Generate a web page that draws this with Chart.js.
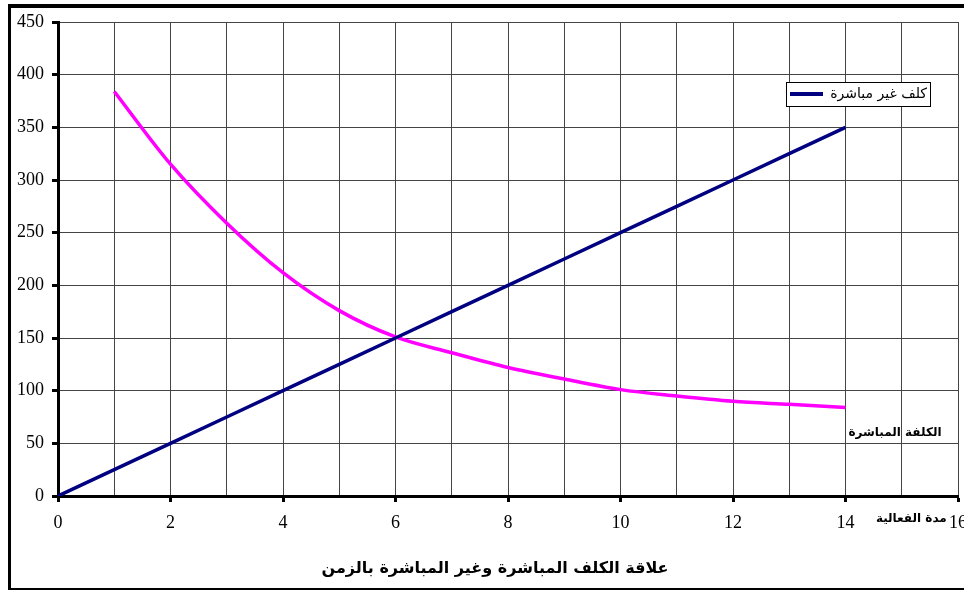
<!DOCTYPE html>
<html>
<head>
<meta charset="utf-8">
<script src="https://cdn.jsdelivr.net/npm/chart.js@4.4.1/dist/chart.umd.min.js"></script>
<style>
  html, body { margin: 0; padding: 0; background: #fff; overflow: hidden; width: 964px; height: 592px; }
  #frame { position: absolute; left: 8px; top: 4px; width: 1000px; height: 580px;
           border-top: 4px solid #000; border-left: 3px solid #000; border-bottom: 2px solid #000; }
  #wrap { position: absolute; left: 0; top: 0; }
</style>
</head>
<body>
<div id="frame"></div>
<div id="wrap"><canvas id="chart" width="1000" height="592"></canvas></div>
<script>
// بيانات المخطط
var indirectDays = [0, 1, 2, 3, 4, 5, 6, 7, 8, 9, 10, 11, 12, 13, 14];
var indirectCost = [0, 25, 50, 75, 100, 125, 150, 175, 200, 225, 250, 275, 300, 325, 350];
var directDays = [1, 2, 3, 4, 5, 6, 7, 8, 9, 10, 11, 12, 13, 14];
var directCost = [384, 315, 259, 212, 176, 151, 136, 122, 111, 101, 95, 90, 87, 84];
var yTicks = [0, 50, 100, 150, 200, 250, 300, 350, 400, 450];
var xTicks = [0, 2, 4, 6, 8, 10, 12, 14, 16];

var indirectLabel = 'كلف غير مباشرة';
var directLabel = 'الكلفة المباشرة';
var xAxisLabel = 'مدة الفعالية';
var chartTitle = 'علاقة الكلف المباشرة وغير المباشرة بالزمن';

function toPoints(xs, ys) {
  return xs.map(function (x, i) { return { x: x, y: ys[i] }; });
}

// legend + labels drawn on the canvas
var extraText = {
  id: 'extraText',
  afterDatasetsDraw: function (chart) {
    var ctx = chart.ctx;
    var area = chart.chartArea;
    var xs = chart.scales.x, ys = chart.scales.y;
    ctx.save();

    // legend box (blue series only)
    var ds = chart.data.datasets[0];
    var bx = area.right - 172, by = area.top + 60, bw = 144, bh = 24;
    ctx.fillStyle = '#fff';
    ctx.fillRect(bx, by, bw, bh);
    ctx.strokeStyle = '#000';
    ctx.lineWidth = 1;
    ctx.strokeRect(bx + 0.5, by + 0.5, bw, bh);
    ctx.strokeStyle = ds.borderColor;
    ctx.lineWidth = 4;
    ctx.beginPath();
    ctx.moveTo(bx + 4, by + 12);
    ctx.lineTo(bx + 37, by + 12);
    ctx.stroke();
    ctx.fillStyle = '#000';
    ctx.font = '14px "DejaVu Sans", Arial, sans-serif';
    ctx.textAlign = 'right';
    ctx.textBaseline = 'middle';
    ctx.fillText(ds.label, bx + bw - 3, by + 12);

    // direct cost label
    ctx.font = 'bold 12px "DejaVu Sans", Arial, sans-serif';
    ctx.textAlign = 'center';
    ctx.fillText(directLabel, xs.getPixelForValue(14.88), ys.getPixelForValue(60));

    // x axis title
    ctx.textAlign = 'right';
    ctx.fillText(xAxisLabel, xs.getPixelForValue(15.8), area.bottom + 23);

    // chart title
    ctx.font = 'bold 16px "DejaVu Sans", Arial, sans-serif';
    ctx.textAlign = 'center';
    ctx.fillText(chartTitle, (area.left + area.right) / 2 - 13, area.bottom + 73);
    ctx.restore();
  }
};

new Chart(document.getElementById('chart'), {
  type: 'line',
  data: {
    datasets: [
      {
        label: indirectLabel,
        data: toPoints(indirectDays, indirectCost),
        borderColor: '#000080',
        borderWidth: 3.5,
        pointRadius: 0,
        tension: 0
      },
      {
        label: directLabel,
        data: toPoints(directDays, directCost),
        borderColor: '#FF00FF',
        borderWidth: 3.5,
        pointRadius: 0,
        cubicInterpolationMode: 'monotone'
      }
    ]
  },
  options: {
    responsive: false,
    animation: false,
    layout: { padding: { top: 22, right: 42, left: 0, bottom: 0 } },
    plugins: {
      legend: { display: false },
      tooltip: { enabled: false },
      title: { display: false }
    },
    scales: {
      x: {
        type: 'linear',
        min: 0,
        max: 16,
        afterFit: function (s) { s.height = 96; },
        ticks: {
          stepSize: 1,
          autoSkip: false,
          maxRotation: 0,
          padding: 10,
          color: '#000',
          font: { family: '"Liberation Serif", "Times New Roman", serif', size: 18 },
          callback: function (v) { return xTicks.indexOf(v) >= 0 ? String(v) : ''; }
        },
        grid: {
          color: '#444',
          lineWidth: 1,
          tickLength: 6,
          tickWidth: 3,
          tickColor: function (c) { return c.tick && xTicks.indexOf(c.tick.value) >= 0 ? '#000' : 'rgba(0,0,0,0)'; }
        },
        border: { color: '#000', width: 3 }
      },
      y: {
        min: 0,
        max: 450,
        afterFit: function (s) { s.width = 58; },
        afterBuildTicks: function (s) { s.ticks = yTicks.map(function (v) { return { value: v }; }); },
        ticks: {
          padding: 8,
          color: '#000',
          font: { family: '"Liberation Serif", "Times New Roman", serif', size: 18 }
        },
        grid: {
          color: '#444',
          lineWidth: 1,
          tickLength: 6,
          tickWidth: 3,
          tickColor: '#000'
        },
        border: { color: '#000', width: 3 }
      }
    }
  },
  plugins: [extraText]
});
</script>
</body>
</html>
